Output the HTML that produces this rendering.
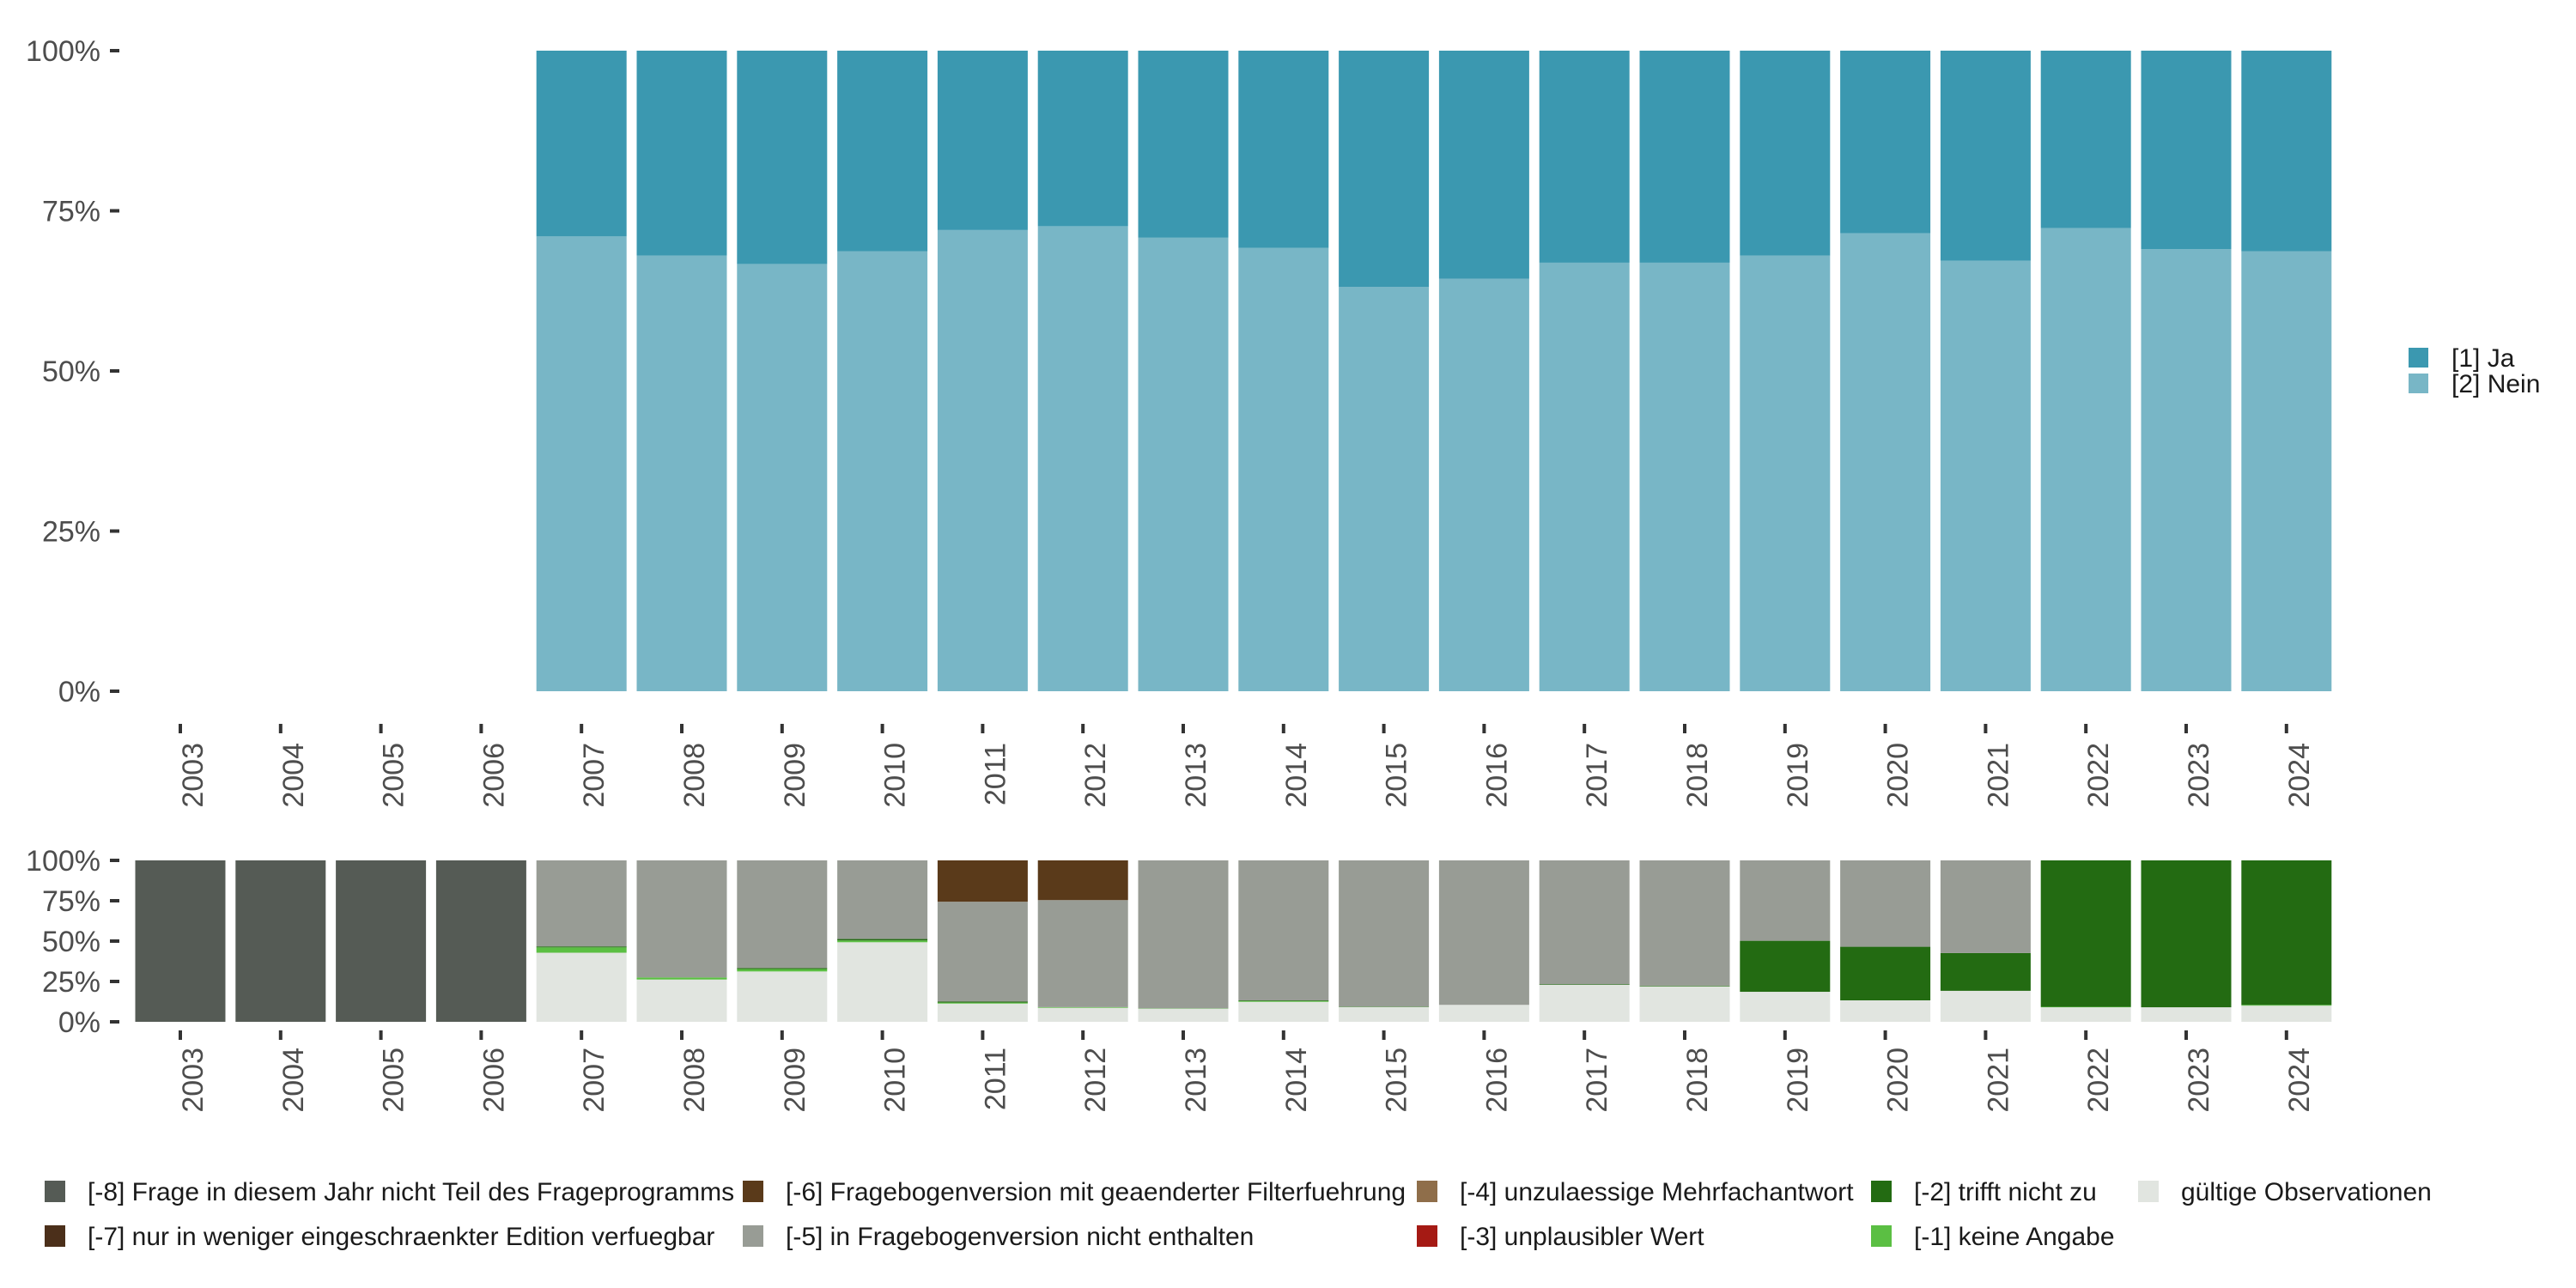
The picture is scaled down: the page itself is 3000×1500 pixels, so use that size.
<!DOCTYPE html>
<html><head><meta charset="utf-8"><style>
html,body{margin:0;padding:0;background:#fff}
svg{display:block}
text{font-family:"Liberation Sans",sans-serif}
</style></head><body>
<svg id="chart" width="3000" height="1500" viewBox="0 0 3000 1500" xmlns="http://www.w3.org/2000/svg"></svg>
<script>
const years=["2003","2004","2005","2006","2007","2008","2009","2010","2011","2012","2013","2014","2015","2016","2017","2018","2019","2020","2021","2022","2023","2024"];
const topYears=["2007","2008","2009","2010","2011","2012","2013","2014","2015","2016","2017","2018","2019","2020","2021","2022","2023","2024"];
const neinShare=[0.71,0.68,0.667,0.687,0.72,0.726,0.708,0.692,0.631,0.644,0.669,0.669,0.68,0.715,0.672,0.723,0.69,0.687];
const yTicks=[0,0.25,0.5,0.75,1];
const yTickLabels=["0%","25%","50%","75%","100%"];
// bottom panel (stack order bottom->top)
const valid=[0,0,0,0,0.428,0.262,0.312,0.493,0.113,0.087,0.081,0.124,0.092,0.105,0.229,0.22,0.186,0.133,0.192,0.09,0.09,0.1];
const m1=[0,0,0,0,0.033,0.013,0.015,0.011,0.006,0.004,0.002,0.005,0,0,0,0,0,0,0,0.003,0,0.005];
const m2=[0,0,0,0,0.006,0,0.006,0.009,0.006,0,0,0.004,0.003,0,0.004,0.004,0.316,0.332,0.234,0.907,0.91,0.895];
const m3=[0,0,0,0,0,0,0,0,0,0,0,0,0,0,0,0,0,0,0,0,0,0];
const m4=[0,0,0,0,0,0,0,0,0,0,0,0,0,0,0,0,0,0,0,0,0,0];
const m5=[0,0,0,0,0.533,0.725,0.667,0.487,0.619,0.663,0.917,0.867,0.905,0.895,0.767,0.776,0.498,0.535,0.574,0,0,0];
const m6=[0,0,0,0,0,0,0,0,0.256,0.246,0,0,0,0,0,0,0,0,0,0,0,0];
const m7=[0,0,0,0,0,0,0,0,0,0,0,0,0,0,0,0,0,0,0,0,0,0];
const m8=[1,1,1,1,0,0,0,0,0,0,0,0,0,0,0,0,0,0,0,0,0,0];
const NS="http://www.w3.org/2000/svg";
const svg=document.getElementById('chart');
function el(t,a,p){const e=document.createElementNS(NS,t);for(const k in a)e.setAttribute(k,a[k]);(p||svg).appendChild(e);return e;}
const step=116.8, x0=210, bw=105;
function xc(i){return x0+i*step;}
function yTop(v){return 805-v*746;}
function yBot(v){return 1190-v*188;}
function axes(yf,name){
  const g=el('g',{});
  
  yTicks.forEach((t,i)=>{
    el('rect',{x:128,y:yf(t)-2,width:11,height:4,fill:'#333'},g);
    const tx=el('text',{x:117,y:yf(t)+12,'text-anchor':'end','font-size':34,fill:'#4d4d4d'},g);
    tx.textContent=yTickLabels[i];
  });
}
function xaxis(base,tick0,text0,name){
  const g=el('g',{});
  
  years.forEach((y,i)=>{
    el('rect',{x:xc(i)-2,y:base+tick0,width:4,height:11,fill:'#333'},g);
    const tx=el('text',{x:0,y:0,'text-anchor':'end','font-size':34,fill:'#4d4d4d',transform:`translate(${xc(i)+26},${base+text0}) rotate(-90)`},g);
    tx.textContent=y;
  });
}
axes(yTop,'top');axes(yBot,'bottom');
xaxis(805,38,60,'top');xaxis(1190,10,30,'bottom');
// top bars
topYears.forEach((y,j)=>{
  const i=years.indexOf(y);const n=neinShare[j];
  const r1=el('rect',{x:xc(i)-bw/2,y:yTop(n),width:bw,height:yTop(0)-yTop(n),fill:'#78b6c6'});
  
  const r2=el('rect',{x:xc(i)-bw/2,y:yTop(1),width:bw,height:yTop(n)-yTop(1),fill:'#3b98b0'});
  
});
// bottom stacks
const series=[valid,m1,m2,m3,m4,m5,m6,m7,m8];
const cols=['#e1e5e0','#5bbf43','#236b12','#a51a14','#8f6e4a','#989c95','#5a3a1a','#4b2f1a','#555b55'];
const snames=['valid','m1','m2','m3','m4','m5','m6','m7','m8'];
years.forEach((y,i)=>{
  let c=0;
  series.forEach((s,k)=>{
    const v=s[i];if(v<=0)return;
    const r=el('rect',{x:xc(i)-bw/2,y:yBot(c+v),width:bw,height:yBot(c)-yBot(c+v),fill:cols[k]});
    
    c+=v;
  });
});
// top legend
const tl=[['[1] Ja','#3b98b0'],['[2] Nein','#78b6c6']];
tl.forEach((l,i)=>{
  const g=el('g',{});
  
  el('rect',{x:2805,y:405+i*30,width:23,height:23,fill:l[1]},g);
  const t=el('text',{x:2855,y:427+i*30,'font-size':30,fill:'#1a1a1a'},g);t.textContent=l[0];
});
// bottom legend
const bl=[
 [52,1387,'#555b55','[-8] Frage in diesem Jahr nicht Teil des Frageprogramms'],
 [52,1439,'#4b2f1a','[-7] nur in weniger eingeschraenkter Edition verfuegbar'],
 [865,1387,'#5a3a1a','[-6] Fragebogenversion mit geaenderter Filterfuehrung'],
 [865,1439,'#989c95','[-5] in Fragebogenversion nicht enthalten'],
 [1650,1387,'#8f6e4a','[-4] unzulaessige Mehrfachantwort'],
 [1650,1439,'#a51a14','[-3] unplausibler Wert'],
 [2179,1387,'#236b12','[-2] trifft nicht zu'],
 [2179,1439,'#5bbf43','[-1] keine Angabe'],
 [2490,1387,'#e1e5e0','gültige Observationen']];
bl.forEach((l,i)=>{
  const g=el('g',{});
  
  el('rect',{x:l[0],y:l[1]-12,width:24,height:25,fill:l[2]},g);
  const t=el('text',{x:l[0]+50,y:l[1]+11,'font-size':30,fill:'#1a1a1a'},g);t.textContent=l[3];
});
</script>
</body></html>
